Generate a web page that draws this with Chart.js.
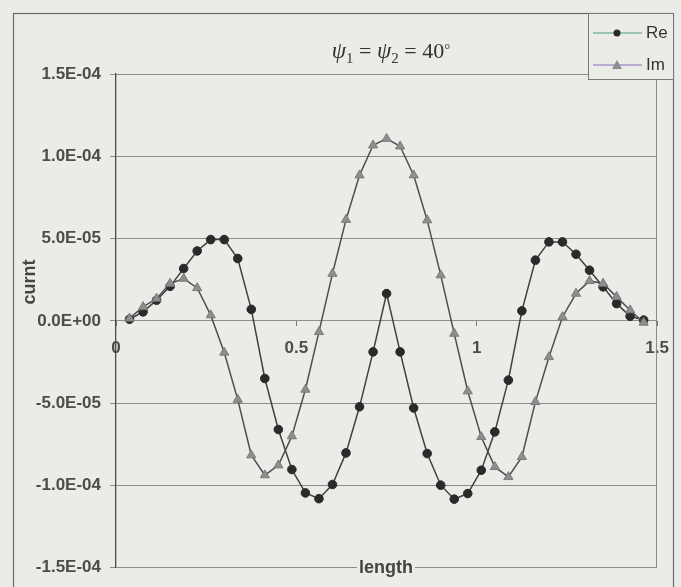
<!DOCTYPE html>
<html>
<head>
<meta charset="utf-8">
<script src="https://cdn.jsdelivr.net/npm/chart.js@4.4.1/dist/chart.umd.min.js"></script>
<style>
  html, body { margin: 0; padding: 0; background: #ebebe7; }
  canvas { display: block; }
</style>
</head>
<body>
<canvas id="currentChart" width="681" height="587"></canvas>
<script>
// sample positions along the line
const lengths = [
  0.0375, 0.075, 0.1125, 0.15, 0.1875, 0.225, 0.2625, 0.3, 0.3375, 0.375,
  0.4125, 0.45, 0.4875, 0.525, 0.5625, 0.6, 0.6375, 0.675, 0.7125, 0.75,
  0.7875, 0.825, 0.8625, 0.9, 0.9375, 0.975, 1.0125, 1.05, 1.0875, 1.125,
  1.1625, 1.2, 1.2375, 1.275, 1.3125, 1.35, 1.3875, 1.425, 1.4625
];

// real part of the current
const reValues = [
  1.0e-6, 5.5e-6, 1.26e-5, 2.10e-5, 3.18e-5, 4.25e-5, 4.94e-5, 4.94e-5, 3.79e-5, 7.0e-6,
  -3.50e-5, -6.60e-5, -9.03e-5, -1.045e-4, -1.08e-4, -9.94e-5, -8.02e-5, -5.22e-5, -1.88e-5, 1.66e-5,
  -1.88e-5, -5.29e-5, -8.06e-5, -9.98e-5, -1.083e-4, -1.049e-4, -9.07e-5, -6.74e-5, -3.60e-5, 6.1e-6,
  3.69e-5, 4.80e-5, 4.80e-5, 4.05e-5, 3.08e-5, 2.07e-5, 1.05e-5, 2.8e-6, 5.0e-7
];

// imaginary part of the current
const imValues = [
  1.5e-6, 8.5e-6, 1.36e-5, 2.27e-5, 2.57e-5, 2.00e-5, 3.5e-6, -1.92e-5, -4.78e-5, -8.16e-5,
  -9.37e-5, -8.77e-5, -7.00e-5, -4.17e-5, -6.7e-6, 2.87e-5, 6.15e-5, 8.85e-5, 1.067e-4, 1.107e-4,
  1.061e-4, 8.85e-5, 6.12e-5, 2.78e-5, -7.7e-6, -4.27e-5, -7.05e-5, -8.87e-5, -9.48e-5, -8.26e-5,
  -4.92e-5, -2.19e-5, 2.4e-6, 1.66e-5, 2.43e-5, 2.27e-5, 1.46e-5, 6.5e-6, -1.0e-6
];

const seriesNames = ["Re", "Im"];
const xTicks = [0, 0.5, 1, 1.5];
const xTickLabels = ["0", "0.5", "1", "1.5"];
const yTicks = [-1.5e-4, -1e-4, -5e-5, 0, 5e-5, 1e-4, 1.5e-4];
const yTickLabels = ["-1.5E-04", "-1.0E-04", "-5.0E-05", "0.0E+00", "5.0E-05", "1.0E-04", "1.5E-04"];
const xTitle = "length";
const yTitle = "curnt";

const bgColor = "#ebebe7";
const tickFont = { family: "'Liberation Sans', Arial, sans-serif", size: 17, weight: "bold" };
const tickColor = "#4c4c4c";
const legendLineColors = ["#7fb8a6", "#a896cc"];

function toPoints(values) {
  return lengths.map((x, i) => ({ x: x, y: values[i] }));
}

// background, outer frame and the plot's right border
const framePlugin = {
  id: "framePlugin",
  beforeDraw(chart) {
    const ctx = chart.ctx;
    ctx.save();
    ctx.fillStyle = bgColor;
    ctx.fillRect(0, 0, chart.width, chart.height);
    ctx.strokeStyle = "#6a6a6a";
    ctx.lineWidth = 1.2;
    ctx.strokeRect(13.5, 13.5, 660, 590);
    ctx.restore();
  },
  beforeDatasetsDraw(chart) {
    const a = chart.chartArea;
    const ctx = chart.ctx;
    ctx.save();
    ctx.strokeStyle = "#8a8a8a";
    ctx.lineWidth = 1;
    ctx.beginPath();
    ctx.moveTo(Math.round(a.right) - 0.5, a.top);
    ctx.lineTo(Math.round(a.right) - 0.5, a.bottom);
    ctx.stroke();
    ctx.restore();
  }
};

// title with italic psi and subscripts, plus axis titles
const textPlugin = {
  id: "textPlugin",
  afterDraw(chart) {
    const ctx = chart.ctx;
    const a = chart.chartArea;
    ctx.save();
    ctx.fillStyle = "#333";
    ctx.textBaseline = "alphabetic";
    const serif = "'Liberation Serif', 'Times New Roman', serif";
    const parts = [
      { t: "\u03C8", f: "italic 23px " + serif, dy: 0 },
      { t: "1", f: "15px " + serif, dy: 5 },
      { t: " = ", f: "22px " + serif, dy: 0 },
      { t: "\u03C8", f: "italic 23px " + serif, dy: 0 },
      { t: "2", f: "15px " + serif, dy: 5 },
      { t: " = ", f: "22px " + serif, dy: 0 },
      { t: "40", f: "22px " + serif, dy: 0 },
      { t: "\u00B0", f: "15px " + serif, dy: -4 }
    ];
    let w = 0;
    parts.forEach((p) => { ctx.font = p.f; w += ctx.measureText(p.t).width; });
    let x = 391 - w / 2;
    parts.forEach((p) => {
      ctx.font = p.f;
      ctx.fillText(p.t, x, 58 + p.dy);
      x += ctx.measureText(p.t).width;
    });

    // x axis title sits on the bottom border
    ctx.font = "bold 18px 'Liberation Sans', Arial, sans-serif";
    ctx.textAlign = "center";
    ctx.textBaseline = "middle";
    const tw = ctx.measureText(xTitle).width;
    ctx.fillStyle = bgColor;
    ctx.fillRect(386 - tw / 2 - 2, a.bottom - 8, tw + 4, 16);
    ctx.fillStyle = "#444";
    ctx.fillText(xTitle, 386, a.bottom);

    ctx.translate(30, 282);
    ctx.rotate(-Math.PI / 2);
    ctx.fillText(yTitle, 0, 0);
    ctx.restore();
  }
};

// boxed legend in the top right corner
const legendPlugin = {
  id: "legendPlugin",
  afterDraw(chart) {
    const ctx = chart.ctx;
    ctx.save();
    ctx.fillStyle = bgColor;
    ctx.fillRect(588, 14, 85, 66);
    ctx.strokeStyle = "#777";
    ctx.lineWidth = 1;
    ctx.strokeRect(588.5, 13.5, 85, 66);
    const rows = [33, 65];
    chart.data.datasets.forEach((ds, i) => {
      const y = rows[i];
      ctx.strokeStyle = legendLineColors[i];
      ctx.lineWidth = 1.5;
      ctx.beginPath();
      ctx.moveTo(593, y);
      ctx.lineTo(642, y);
      ctx.stroke();
      ctx.fillStyle = ds.pointBackgroundColor;
      ctx.beginPath();
      if (ds.pointStyle === "triangle") {
        ctx.moveTo(617, y - 5);
        ctx.lineTo(622, y + 4);
        ctx.lineTo(612, y + 4);
        ctx.closePath();
      } else {
        ctx.arc(617, y, 3.5, 0, Math.PI * 2);
      }
      ctx.fill();
      ctx.fillStyle = "#333";
      ctx.font = "17px 'Liberation Sans', Arial, sans-serif";
      ctx.textBaseline = "middle";
      ctx.fillText(ds.label, 646, y);
    });
    ctx.restore();
  }
};

new Chart(document.getElementById("currentChart"), {
  type: "line",
  data: {
    datasets: [
      {
        label: seriesNames[0],
        data: toPoints(reValues),
        borderColor: "#3f4241",
        borderWidth: 1.5,
        pointStyle: "circle",
        pointRadius: 4.3,
        pointBackgroundColor: "#2a2a2a",
        pointBorderColor: "#2a2a2a",
        pointBorderWidth: 1,
        tension: 0,
        order: 1
      },
      {
        label: seriesNames[1],
        data: toPoints(imValues),
        borderColor: "#4f4c55",
        borderWidth: 1.5,
        pointStyle: "triangle",
        pointRadius: 5.3,
        pointBackgroundColor: "#8e8e8e",
        pointBorderColor: "#7a7a7a",
        pointBorderWidth: 1,
        tension: 0,
        order: 0
      }
    ]
  },
  options: {
    responsive: false,
    devicePixelRatio: 1,
    animation: false,
    layout: { padding: { left: 16, right: 22, top: 74, bottom: 14 } },
    scales: {
      x: {
        type: "linear",
        position: { y: 0 },
        min: 0,
        max: 1.5,
        afterBuildTicks: (scale) => { scale.ticks = xTicks.map((v) => ({ value: v })); },
        ticks: {
          callback: (v, i) => xTickLabels[i],
          font: tickFont,
          color: tickColor,
          padding: 12,
          maxRotation: 0
        },
        grid: { drawOnChartArea: false, drawTicks: true, tickLength: 5, color: "#777" },
        border: { display: false }
      },
      y: {
        min: -1.5e-4,
        max: 1.5e-4,
        afterBuildTicks: (scale) => { scale.ticks = yTicks.map((v) => ({ value: v })); },
        afterFit: (scale) => { scale.width = 100; },
        ticks: {
          callback: (v, i) => yTickLabels[i],
          font: tickFont,
          color: tickColor,
          padding: 9
        },
        grid: { color: "#8c8c8c", lineWidth: 1, tickLength: 6 },
        border: { display: true, color: "#4a4a4a", width: 1.3 }
      }
    },
    plugins: {
      legend: { display: false },
      title: { display: false },
      tooltip: { enabled: false }
    }
  },
  plugins: [framePlugin, textPlugin, legendPlugin]
});
</script>
</body>
</html>
